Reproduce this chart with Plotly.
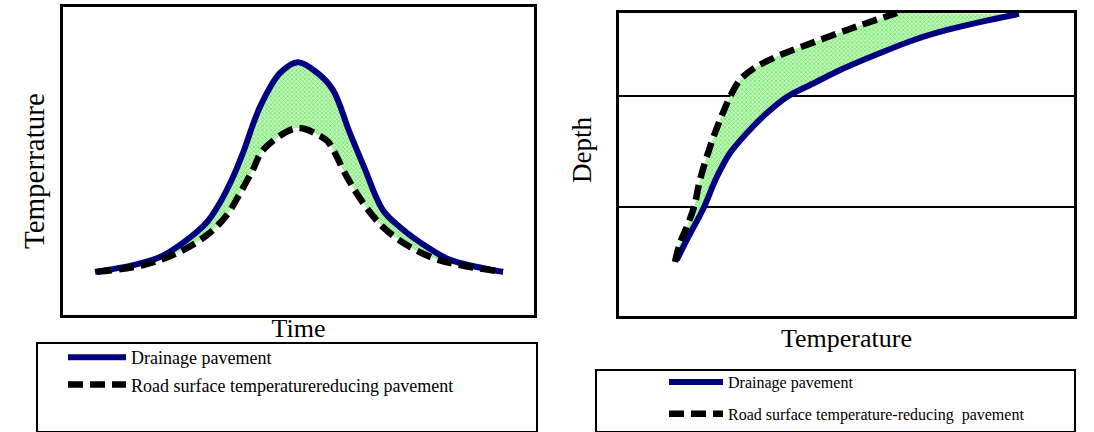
import plotly.graph_objects as go

# ---------------- Data (arbitrary 0-100 units) ----------------
# Left panel: Temperature vs Time
time_drain = [6.8, 14.9, 20.6, 26.3, 30.6, 33.3, 36.1, 38.2, 41.8, 46.1, 49.9,
              54.0, 57.3, 60.9, 63.9, 67.9, 71.5, 77.3, 82.2, 93.4]
temp_drain = [14.0, 16.2, 18.8, 24.4, 30.2, 36.4, 44.8, 52.6, 67.5, 78.6, 82.1,
              78.6, 73.1, 59.1, 48.1, 34.1, 28.6, 22.1, 17.9, 14.0]
time_reduce = [7.2, 17.0, 24.2, 30.6, 34.8, 37.6, 40.3, 42.5, 49.7,
               54.6, 56.3, 60.3, 63.7, 67.9, 73.0, 78.6, 84.3, 93.4]
temp_reduce = [14.0, 16.2, 20.1, 26.0, 32.5, 39.6, 47.1, 53.6, 60.7,
               58.1, 56.2, 44.8, 36.4, 28.6, 22.7, 18.5, 16.2, 14.0]

# Right panel: Depth profile (Temperature on x, depth on y)
prof_temp_drain = [12.7, 14.9, 18.7, 21.5, 24.4, 28.1, 32.5, 36.9, 42.9, 48.6,
                   57.4, 64.8, 72.1, 79.3, 87.9]
prof_depth_drain = [18.5, 25.1, 36.0, 45.9, 53.8, 60.4, 67.0, 72.3, 76.9, 81.2,
                    86.8, 91.1, 94.4, 97.0, 99.7]
prof_temp_reduce = [12.3, 13.4, 14.9, 16.5, 17.8, 20.0, 22.2, 24.4, 26.6, 29.7,
                    35.4, 42.9, 50.1, 54.5, 61.1]
prof_depth_reduce = [17.8, 24.1, 29.4, 36.0, 44.9, 55.8, 64.7, 72.3, 77.9, 81.8,
                     86.1, 90.4, 94.4, 96.7, 100.0]
layer_bounds = [36.1, 72.7]

name_drain = "Drainage pavement"
name_reduce_left = "Road surface temperaturereducing pavement"
name_reduce_right = "Road surface temperature-reducing  pavement"

# ---------------- Styles ----------------
BLUE = "#000080"
SERIF = "Liberation Serif, Times New Roman, serif"
fill_pat = dict(shape="x", fgcolor="#1cdc1c", bgcolor="#c4f6bc", size=3, solidity=0.45)
SMOOTH = 1.0
blue_line = dict(color=BLUE, width=6, shape="spline", smoothing=SMOOTH)
dash_line = dict(color="black", width=6.5, dash="15px,7px", shape="spline", smoothing=SMOOTH)

fig = go.Figure()

def add_panel(xd, yd, xr, yr, xa, ya, legend, name_r):
    # band between the two curves
    fig.add_trace(go.Scatter(x=xr, y=yr, mode="lines", line=dict(width=0, shape="spline", smoothing=SMOOTH),
                             xaxis=xa, yaxis=ya, showlegend=False, hoverinfo="skip"))
    fig.add_trace(go.Scatter(x=xd, y=yd, mode="lines", line=dict(width=0, shape="spline", smoothing=SMOOTH),
                             fill="tonexty", fillpattern=fill_pat, fillcolor="rgba(0,0,0,0)",
                             xaxis=xa, yaxis=ya, showlegend=False, hoverinfo="skip"))
    # the two curves
    fig.add_trace(go.Scatter(x=xd, y=yd, mode="lines", name=name_drain, line=blue_line,
                             xaxis=xa, yaxis=ya, legend=legend, legendgroup=legend + "a"))
    fig.add_trace(go.Scatter(x=xr, y=yr, mode="lines", name=name_r, line=dash_line,
                             xaxis=xa, yaxis=ya, legend=legend, legendgroup=legend + "b"))

add_panel(time_drain, temp_drain, time_reduce, temp_reduce, "x", "y", "legend", name_reduce_left)
add_panel(prof_temp_drain, prof_depth_drain, prof_temp_reduce, prof_depth_reduce, "x2", "y2", "legend2", name_reduce_right)

W, H = 1094, 432
def px(x): return x / W
def py(y): return 1 - y / H

ax_common = dict(showline=True, mirror=True, linecolor="black", linewidth=2.5,
                 showticklabels=False, ticks="", zeroline=False, range=[0, 100])

fig.update_layout(
    width=W, height=H, margin=dict(l=0, r=0, t=0, b=0),
    paper_bgcolor="white", plot_bgcolor="white",
    font=dict(family=SERIF, color="black"),
    xaxis=dict(domain=[px(63), px(534)], showgrid=False,
               title=dict(text="Time", font=dict(size=26), standoff=3), **ax_common),
    yaxis=dict(domain=[py(315), py(7)], showgrid=False, **ax_common),
    xaxis2=dict(domain=[px(619), px(1074)], anchor="y2", showgrid=False,
                title=dict(text="Temperature", font=dict(size=26), standoff=12), **ax_common),
    yaxis2=dict(domain=[py(316), py(13)], anchor="x2", showgrid=True, gridcolor="black", gridwidth=2,
                tickmode="array", tickvals=layer_bounds, **ax_common),
    legend=dict(x=px(63), y=py(339), xanchor="left", yanchor="top", bgcolor="rgba(0,0,0,0)",
                font=dict(size=18), traceorder="grouped", tracegroupgap=1, itemwidth=58),
    legend2=dict(x=px(664), y=py(365), xanchor="left", yanchor="top", bgcolor="rgba(0,0,0,0)",
                 font=dict(size=16), traceorder="grouped", tracegroupgap=8, itemwidth=54),
    annotations=[
        dict(text="Temperrature", xref="paper", yref="paper", x=px(34), y=py(171),
             textangle=-90, showarrow=False, font=dict(size=29), xanchor="center", yanchor="middle"),
        dict(text="Depth", xref="paper", yref="paper", x=px(582), y=py(150),
             textangle=-90, showarrow=False, font=dict(size=27), xanchor="center", yanchor="middle"),
    ],
    shapes=[
        dict(type="rect", xref="paper", yref="paper", x0=px(37), x1=px(537), y0=py(432), y1=py(343),
             line=dict(color="black", width=2), layer="below"),
        dict(type="rect", xref="paper", yref="paper", x0=px(596), x1=px(1075), y0=py(432), y1=py(370),
             line=dict(color="black", width=2), layer="below"),
    ],
)

fig.write_html("out.html")
